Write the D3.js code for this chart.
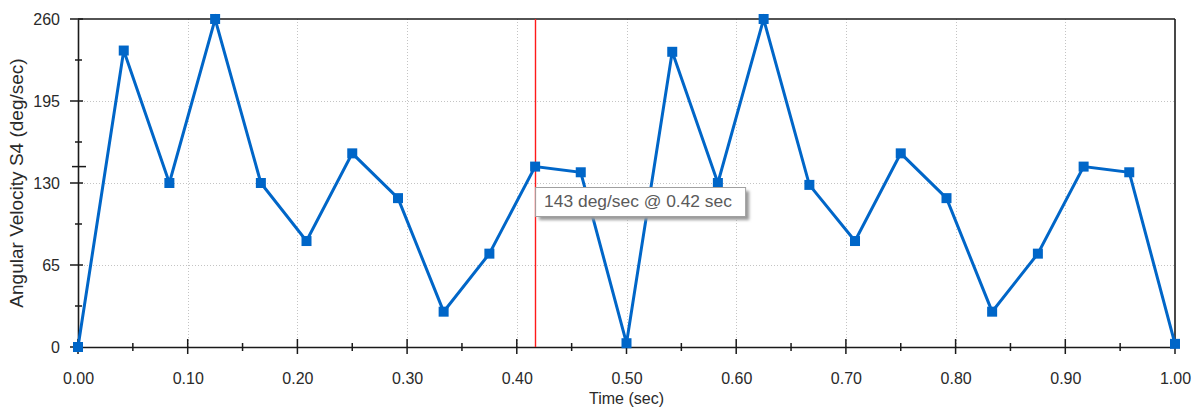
<!DOCTYPE html>
<html>
<head>
<meta charset="utf-8">
<script src="https://cdn.jsdelivr.net/npm/d3@7"></script>
<style>
  html, body { margin: 0; padding: 0; background: #fff; }
  svg { display: block; }
  text { font-family: "Liberation Sans", Arial, sans-serif; }
</style>
</head>
<body>
<svg id="chart" width="1195" height="410"></svg>
<script>
// Sample times (sec) and angular velocity of segment S4 (deg/sec)
const times = [0, 0.0417, 0.0833, 0.125, 0.1667, 0.2083, 0.25, 0.2917, 0.3333, 0.375, 0.4167, 0.4583,
               0.5, 0.5417, 0.5833, 0.625, 0.6667, 0.7083, 0.75, 0.7917, 0.8333, 0.875, 0.9167, 0.9583, 1.0];
const velocity = [0, 235, 130, 260, 130, 84, 153.5, 118, 28, 74, 143, 138.5,
                  3, 234, 130, 260, 128.5, 84, 153.5, 118, 28, 74, 143, 138.5, 2.5];

const xTicks = [0, 0.1, 0.2, 0.3, 0.4, 0.5, 0.6, 0.7, 0.8, 0.9, 1.0];
const xMinorTicks = [0.05, 0.15, 0.25, 0.35, 0.45, 0.55, 0.65, 0.75, 0.85, 0.95];
const yTicks = [0, 65, 130, 195, 260];
const yMinorTicks = [32.5, 97.5, 162.5, 227.5];

// Cursor readout
const cursorTime = 0.4167;
const cursorValue = 143;

const xLabel = "Time (sec)";
const yLabel = "Angular Velocity S4  (deg/sec)";

const svg = d3.select("#chart");
const plotLeft = 78, plotRight = 1175, plotTop = 19, plotBottom = 347;

const x = d3.scaleLinear().domain([0, 1]).range([plotLeft, plotRight]);
const y = d3.scaleLinear().domain([0, 260]).range([plotBottom, plotTop]);

// Dotted grid
const grid = svg.append("g").attr("stroke", "#c4c4c4").attr("stroke-width", 1)
  .attr("stroke-dasharray", "1,2");
grid.selectAll("line.vx").data(xTicks.slice(1, -1)).join("line")
  .attr("x1", d => Math.round(x(d)) + 0.5).attr("x2", d => Math.round(x(d)) + 0.5)
  .attr("y1", plotTop).attr("y2", plotBottom);
grid.selectAll("line.hy").data(yTicks.slice(1, -1)).join("line")
  .attr("y1", d => Math.round(y(d)) + 0.5).attr("y2", d => Math.round(y(d)) + 0.5)
  .attr("x1", plotLeft).attr("x2", plotRight);

// Frame
const frame = svg.append("g").attr("stroke", "#1a1a1a").attr("stroke-width", 1.6).attr("fill", "none");
frame.append("line").attr("x1", plotLeft).attr("x2", plotRight).attr("y1", plotTop).attr("y2", plotTop);
frame.append("line").attr("x1", plotRight).attr("x2", plotRight).attr("y1", plotTop).attr("y2", plotBottom);

// X axis
const xAxis = svg.append("g").attr("transform", `translate(0,${plotBottom})`)
  .call(d3.axisBottom(x).tickValues(xTicks).tickFormat(d3.format(".2f")).tickSize(0).tickPadding(26));
xAxis.select(".domain").attr("stroke", "#1a1a1a").attr("stroke-width", 1.6);
xAxis.selectAll("text").attr("font-size", 16).attr("fill", "#2a2a2a");
const xt = svg.append("g").attr("stroke", "#1a1a1a").attr("stroke-width", 1.5);
xt.selectAll("line.maj").data(xTicks).join("line")
  .attr("x1", d => x(d)).attr("x2", d => x(d)).attr("y1", plotBottom - 8).attr("y2", plotBottom + 7);
xt.selectAll("line.min").data(xMinorTicks).join("line")
  .attr("x1", d => x(d)).attr("x2", d => x(d)).attr("y1", plotBottom - 4).attr("y2", plotBottom + 4);

// Y axis
const yAxis = svg.append("g").attr("transform", `translate(${plotLeft},0)`)
  .call(d3.axisLeft(y).tickValues(yTicks).tickFormat(d3.format("d")).tickSize(0).tickPadding(18));
yAxis.select(".domain").attr("stroke", "#1a1a1a").attr("stroke-width", 1.6);
yAxis.selectAll("text").attr("font-size", 16).attr("fill", "#2a2a2a");
const yt = svg.append("g").attr("stroke", "#1a1a1a").attr("stroke-width", 1.5);
yt.selectAll("line.maj").data(yTicks).join("line")
  .attr("y1", d => y(d)).attr("y2", d => y(d)).attr("x1", plotLeft - 8).attr("x2", plotLeft + 5);
yt.selectAll("line.min").data(yMinorTicks).join("line")
  .attr("y1", d => y(d)).attr("y2", d => y(d)).attr("x1", plotLeft - 3).attr("x2", plotLeft + 4);
// marker for the cursor value on the y axis
yt.append("line").attr("y1", y(cursorValue)).attr("y2", y(cursorValue))
  .attr("x1", plotLeft - 6).attr("x2", plotLeft + 8);

// Axis titles
svg.append("text").attr("x", (plotLeft + plotRight) / 2).attr("y", 404)
  .attr("text-anchor", "middle").attr("font-size", 16).attr("fill", "#2a2a2a").text(xLabel);
svg.append("text").attr("transform", `translate(23,${(plotTop + plotBottom) / 2}) rotate(-90)`)
  .attr("text-anchor", "middle").attr("font-size", 19).attr("fill", "#2a2a2a").text(yLabel);

// Cursor line
svg.append("line").attr("x1", Math.round(x(cursorTime)) + 0.5).attr("x2", Math.round(x(cursorTime)) + 0.5)
  .attr("y1", plotTop).attr("y2", plotBottom).attr("stroke", "#ff1a1a").attr("stroke-width", 1.4);

// Series
const pts = times.map((t, i) => [t, velocity[i]]);
svg.append("path").datum(pts)
  .attr("d", d3.line().x(d => x(d[0])).y(d => y(d[1])))
  .attr("fill", "none").attr("stroke", "#0066c8").attr("stroke-width", 3)
  .attr("stroke-linejoin", "miter");
const ms = 10;
svg.append("g").selectAll("rect").data(pts).join("rect")
  .attr("x", d => x(d[0]) - ms / 2).attr("y", d => y(d[1]) - ms / 2)
  .attr("width", ms).attr("height", ms).attr("fill", "#0066c8");

// Cursor readout box
const defs = svg.append("defs");
const f = defs.append("filter").attr("id", "shadow").attr("x", "-10%").attr("y", "-30%")
  .attr("width", "130%").attr("height", "180%");
f.append("feGaussianBlur").attr("stdDeviation", 1.6);
const bx = x(cursorTime), by = 187, bw = 210, bh = 29;
svg.append("rect").attr("x", bx + 4).attr("y", by + 4).attr("width", bw).attr("height", bh)
  .attr("fill", "#9a9a9a").attr("filter", "url(#shadow)");
svg.append("rect").attr("x", bx + 0.5).attr("y", by + 0.5).attr("width", bw).attr("height", bh)
  .attr("fill", "#fff").attr("stroke", "#a0a0a0").attr("stroke-width", 1);
svg.append("text").attr("x", bx + 9).attr("y", by + 20)
  .attr("font-size", 17.4).attr("fill", "#5a5a5a")
  .text(`${cursorValue} deg/sec @ ${d3.format(".2f")(cursorTime)} sec`);
</script>
</body>
</html>
